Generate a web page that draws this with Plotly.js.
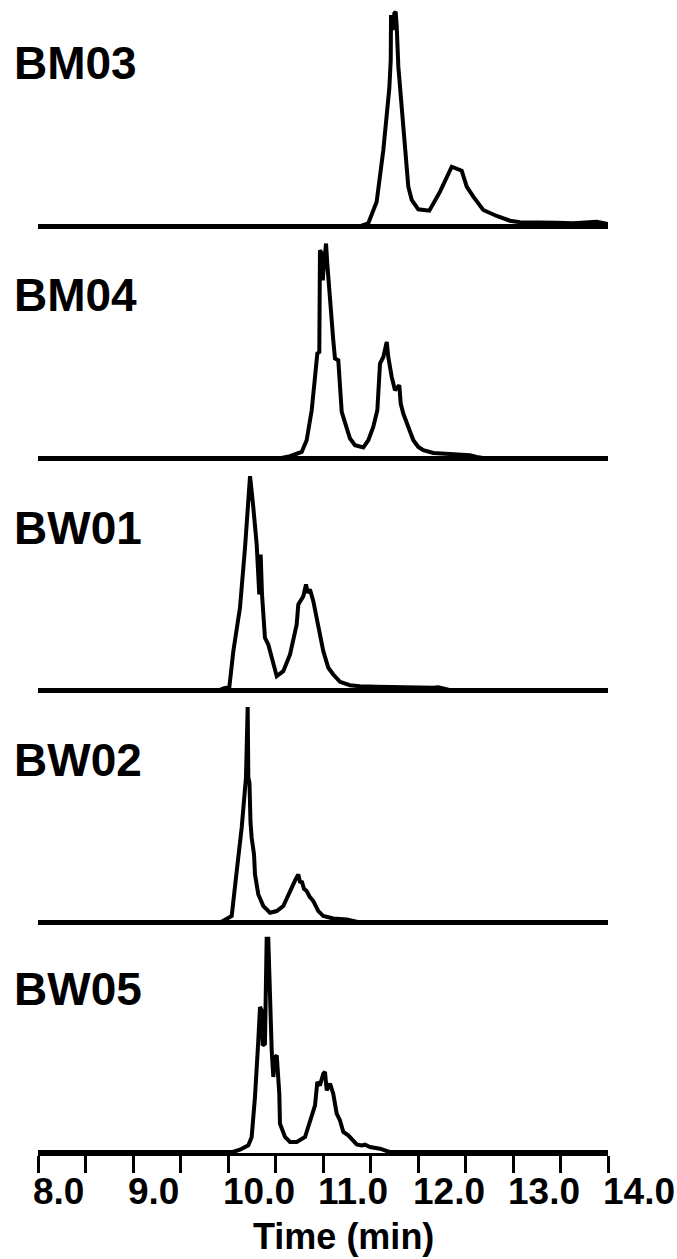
<!DOCTYPE html>
<html>
<head>
<meta charset="utf-8">
<script src="https://cdn.plot.ly/plotly-3.0.1.min.js"></script>
<style>html,body{margin:0;padding:0;background:#fff;}#chart{width:677px;height:1259px;}</style>
</head>
<body>
<div id="chart"></div>
<script>
// Sample names (top to bottom)
const samples = ["BM03", "BM04", "BW01", "BW02", "BW05"];

// Retention time (min) and detector response (relative units)
const tBM03 = [8.0, 11.40, 11.477, 11.565, 11.635, 11.698, 11.713, 11.716, 11.733, 11.751, 11.765, 11.776, 11.793, 11.845, 11.898, 11.934, 12.003, 12.119, 12.232, 12.355, 12.460, 12.513, 12.582, 12.687, 12.828, 12.968, 13.074, 13.460, 13.635, 13.881, 13.951, 14.0];
const iBM03 = [0, 0, 2.7, 24.3, 76, 137.7, 166, 211, 196, 212.7, 214.3, 199.3, 159.3, 102.7, 39.3, 26, 16.7, 15.3, 34.3, 59.3, 55.3, 39.3, 29.3, 16, 10, 5.3, 3.7, 3.3, 2.7, 4.3, 2.7, 2];

const tBM04 = [8.0, 10.55, 10.653, 10.776, 10.828, 10.881, 10.916, 10.940, 10.961, 10.968, 10.986, 10.997, 11.011, 11.021, 11.032, 11.045, 11.056, 11.066, 11.108, 11.126, 11.161, 11.197, 11.232, 11.284, 11.337, 11.424, 11.477, 11.529, 11.572, 11.600, 11.635, 11.671, 11.687, 11.723, 11.758, 11.803, 11.818, 11.845, 11.898, 11.951, 12.003, 12.056, 12.161, 12.302, 12.547, 12.618, 12.70, 14.0];
const iBM04 = [0, 0, 2, 6.3, 18, 48, 81.3, 104.7, 106.3, 208, 204.7, 178, 194.7, 209.7, 214.7, 194.7, 179.7, 164.7, 118, 99.7, 98, 46.3, 36.3, 19.7, 13, 10.7, 18, 31.3, 48, 94.7, 101.3, 116.3, 101.3, 81.3, 68, 73, 54.7, 44.7, 31.3, 18, 11.3, 8, 5.3, 4.7, 3, 1.3, 0, 0];

const tBW01 = [8.0, 9.90, 9.951, 10.014, 10.056, 10.126, 10.179, 10.232, 10.267, 10.302, 10.329, 10.344, 10.358, 10.389, 10.424, 10.477, 10.513, 10.582, 10.653, 10.723, 10.740, 10.793, 10.821, 10.839, 10.863, 10.898, 10.951, 11.003, 11.056, 11.108, 11.179, 11.284, 11.389, 11.565, 12.161, 12.214, 12.266, 12.35, 14.0];
const iBW01 = [0, 0, 2, 3.3, 39.3, 82.7, 142.7, 214.3, 182.7, 146, 96, 136, 96, 52.7, 46, 26, 14.3, 19.3, 36, 66, 86, 94.3, 106, 97.7, 101, 89.3, 62.7, 39.3, 22.7, 16, 8.7, 5.3, 4.3, 3.7, 2.7, 3.3, 2, 0, 0];

const tBW02 = [8.0, 9.90, 9.951, 10.039, 10.092, 10.144, 10.189, 10.197, 10.207, 10.214, 10.226, 10.237, 10.249, 10.274, 10.284, 10.319, 10.372, 10.442, 10.513, 10.582, 10.610, 10.635, 10.660, 10.687, 10.710, 10.740, 10.760, 10.776, 10.800, 10.828, 10.860, 10.898, 10.951, 11.003, 11.108, 11.249, 11.40, 14.0];
const iBW02 = [0, 0, 2, 6.7, 51.7, 95, 145, 215.7, 215.7, 145, 140, 100, 85, 68.3, 48.3, 28.3, 16.7, 10, 11.7, 16.7, 22, 26.7, 31, 38.3, 43, 48.3, 40, 41.7, 34, 31.7, 26, 21.7, 11.7, 6.7, 4.3, 3.3, 0, 0];

const tBW05 = [8.0, 10.05, 10.126, 10.214, 10.249, 10.284, 10.319, 10.337, 10.355, 10.365, 10.389, 10.407, 10.424, 10.435, 10.442, 10.460, 10.477, 10.495, 10.513, 10.540, 10.547, 10.600, 10.653, 10.723, 10.811, 10.863, 10.916, 10.940, 10.968, 11.003, 11.021, 11.039, 11.074, 11.108, 11.144, 11.179, 11.214, 11.266, 11.355, 11.407, 11.442, 11.495, 11.600, 11.70, 14.0];
const iBW05 = [0, 0, 2.3, 6.6, 15, 55, 111.6, 145, 141.6, 106.6, 108.3, 213.3, 213.3, 178.3, 148.3, 101.6, 75, 95, 96.6, 58.3, 28.3, 15, 10, 10, 15, 31.6, 46.6, 70, 66.6, 78.3, 80, 61.6, 68.3, 58.3, 38.3, 31.6, 20, 16.6, 7.6, 6.6, 7.3, 5, 3.3, 0, 0];

// Axis ticks
const tickVals = [8, 8.5, 9, 9.5, 10, 10.5, 11, 11.5, 12, 12.5, 13, 13.5, 14];
const tickText = ["8.0", "", "9.0", "", "10.0", "", "11.0", "", "12.0", "", "13.0", "", "14.0"];
const xTitle = "Time (min)";

const times = [tBM03, tBM04, tBW01, tBW02, tBW05];
const resp = [iBM03, iBM04, iBW01, iBW02, iBW05];

// Layout geometry (pixels)
const W = 677, H = 1259;
const mL = 38, mR = 69, mT = 0, mB = 106;
const plotH = H - mT - mB;
const baselines = [229, 461.25, 693.5, 925.75, 1153];

const FONT = "'Liberation Sans', Arial, 'DejaVu Sans', sans-serif";

const data = [];
const layout = {
  width: W, height: H,
  margin: {l: mL, r: mR, t: mT, b: mB},
  paper_bgcolor: "#fff", plot_bgcolor: "#fff",
  showlegend: false,
  font: {family: FONT, color: "#000"},
  annotations: []
};

for (let i = 0; i < samples.length; i++) {
  const n = i === 0 ? "" : String(i + 1);
  const isLast = i === samples.length - 1;
  const top = i === 0 ? 0 : baselines[i - 1];
  const h = baselines[i] - top;
  const d0 = (plotH - baselines[i]) / plotH;
  const d1 = (plotH - top) / plotH;
  const off = isLast ? 1 : 3;
  data.push({
    x: times[i], y: resp[i], type: "scatter", mode: "lines",
    xaxis: "x" + n, yaxis: "y" + n,
    line: {color: "#000", width: 4},
    hoverinfo: "skip"
  });
  layout["xaxis" + n] = {
    domain: [0, 1], anchor: "y" + n, range: [8, 14],
    showline: isLast, linecolor: "#000", linewidth: 3,
    showgrid: false, zeroline: false, fixedrange: true,
    ticks: isLast ? "outside" : "", ticklen: 17, tickwidth: 3, tickcolor: "#000",
    tickmode: "array", tickvals: tickVals, ticktext: tickText,
    showticklabels: isLast,
    ticklabelposition: "outside right", ticklabelshift: -8, ticklabelstandoff: 4,
    tickfont: {family: FONT, size: 37, color: "#000", weight: "bold"}
  };
  layout["yaxis" + n] = {
    domain: [d0, Math.min(1, d1)], anchor: "x" + n, range: [-off, h - off],
    showgrid: false, showline: false, ticks: "", showticklabels: false,
    zeroline: true, zerolinecolor: "#000", zerolinewidth: isLast ? 4 : 5,
    fixedrange: true
  };
  layout.annotations.push({
    text: samples[i], xref: "paper", yref: "paper",
    x: (12 - mL) / (W - mL - mR), xanchor: "left",
    y: (plotH - (baselines[i] - off - 163)) / plotH, yanchor: "middle",
    showarrow: false,
    font: {family: FONT, size: 46, color: "#000", weight: "bold"}
  });
}

layout.annotations.push({
  text: xTitle, xref: "paper", yref: "paper",
  x: (343.5 - mL) / (W - mL - mR), xanchor: "center",
  y: (plotH - 1236) / plotH, yanchor: "middle",
  showarrow: false,
  font: {family: FONT, size: 36, color: "#000", weight: "bold"}
});

Plotly.newPlot("chart", data, layout, {displayModeBar: false, staticPlot: true});
</script>
</body>
</html>
